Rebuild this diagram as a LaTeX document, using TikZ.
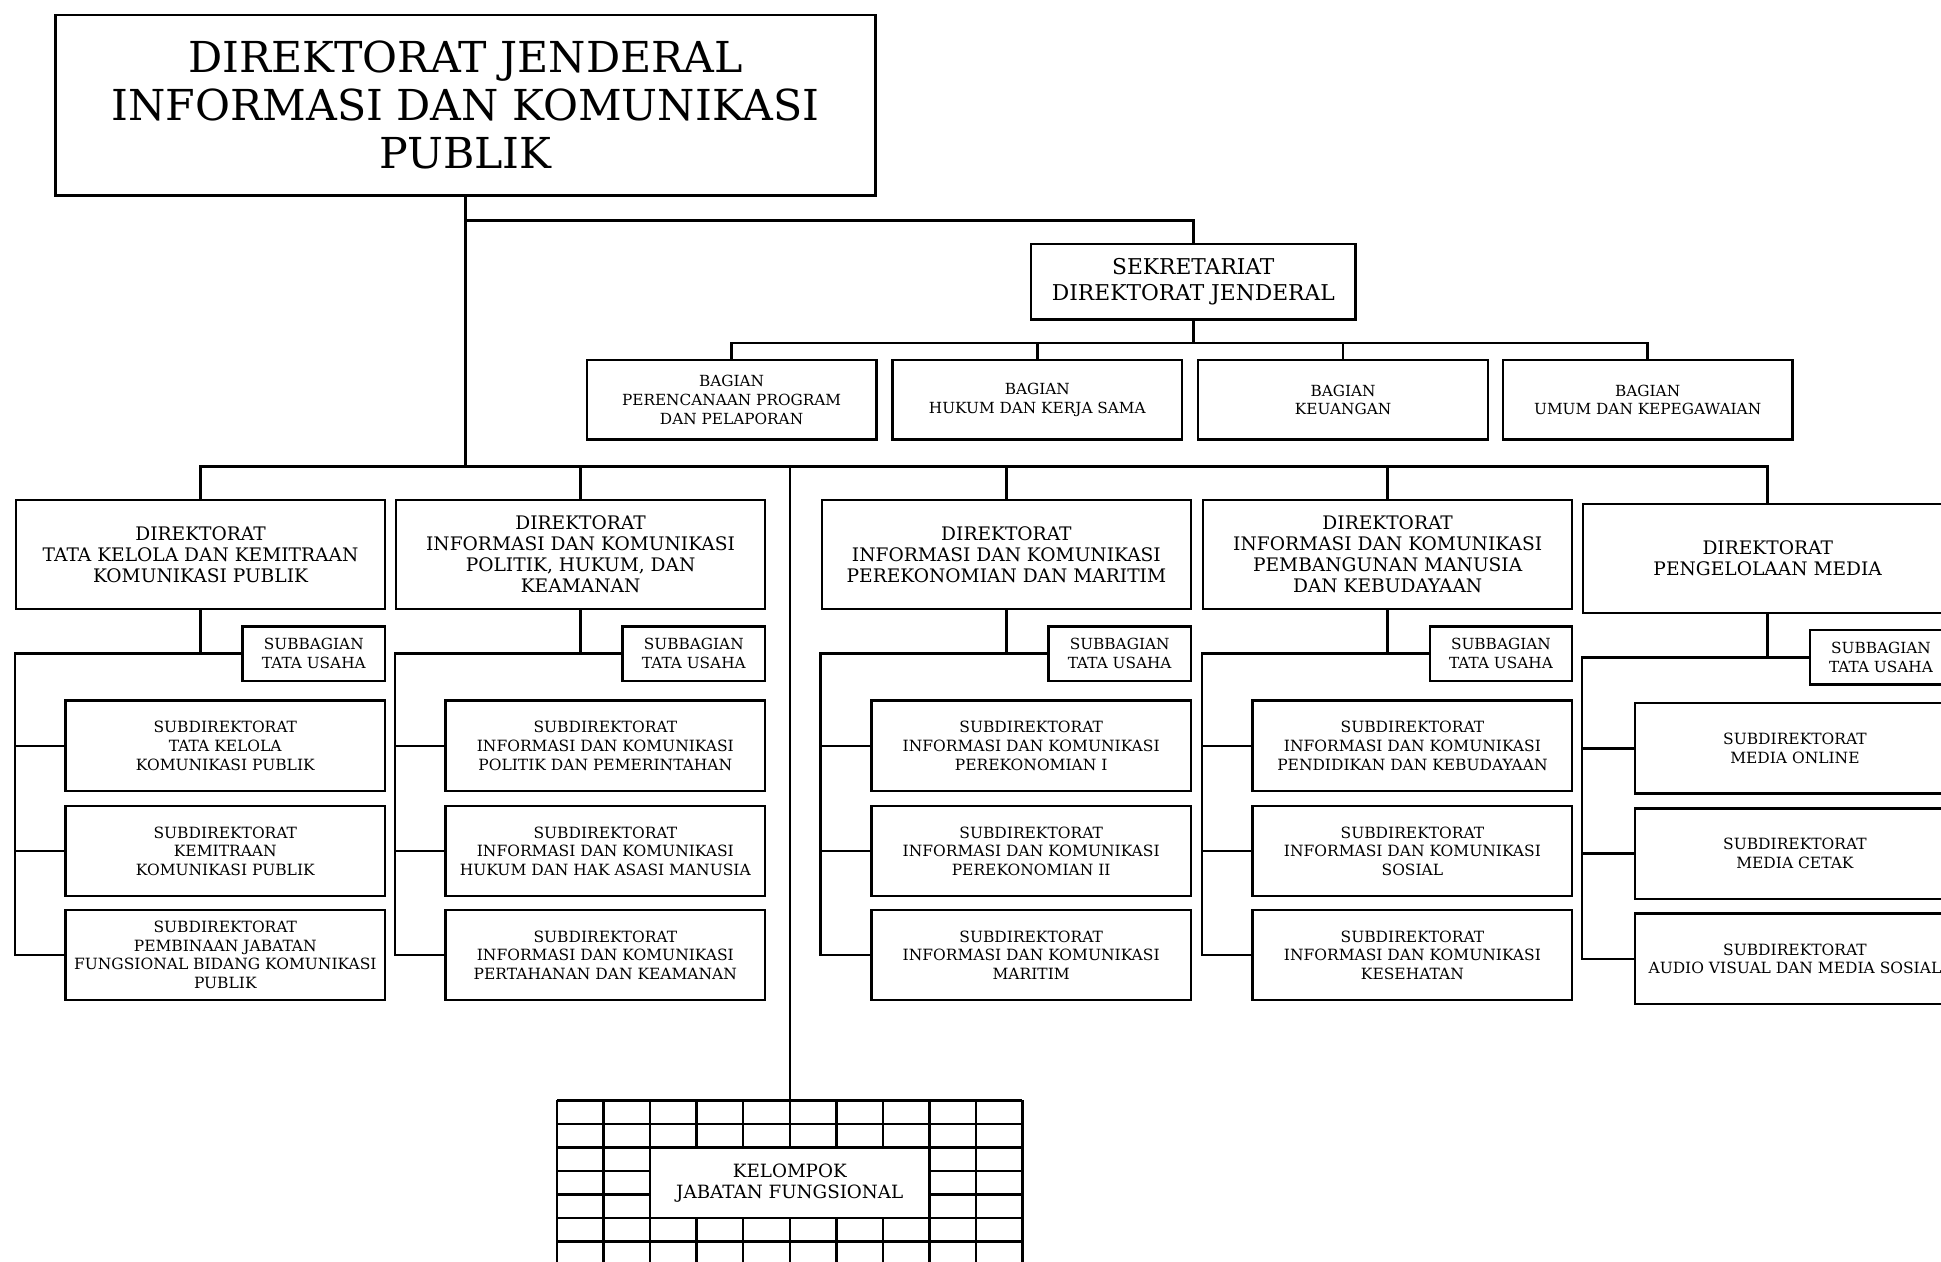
\documentclass[tikz,border=0pt]{standalone}
\usepackage{fontspec}
\setmainfont{DejaVu Serif}
\begin{document}
\begin{tikzpicture}[x=0.025cm, y=-0.025cm, line width=1.4pt,
	box/.style={draw, align=center, inner sep=0pt, fill=white},
	topbox/.style={box, minimum width=16.55cm, minimum height=3.65cm, font=\fontsize{24.5}{27.7}\selectfont},
	sekbox/.style={box, minimum width=6.55cm, minimum height=1.525cm, font=\fontsize{12.5}{15}\selectfont},
	bagbox/.style={box, minimum width=5.85cm, minimum height=1.6cm, font=\fontsize{8.8}{10.7}\selectfont},
	dirbox/.style={box, minimum width=7.45cm, minimum height=2.2cm, font=\fontsize{10.7}{12.1}\selectfont},
	tubox/.style={box, minimum width=2.875cm, minimum height=1.1cm, font=\fontsize{8.8}{10.7}\selectfont},
	subbox/.style={box, minimum width=6.45cm, minimum height=1.825cm, font=\fontsize{8.9}{10.7}\selectfont},
	jfbox/.style={box, minimum width=5.64cm, minimum height=1.425cm, font=\fontsize{10.5}{12}\selectfont}]
		\clip (0,0) rectangle (1568,1019);
		% pimpinan
		\node [topbox] (top) at (376,85) {DIREKTORAT JENDERAL\\INFORMASI DAN KOMUNIKASI\\PUBLIK};
		\node [sekbox] (sek) at (964,227.5) {SEKRETARIAT\\DIREKTORAT JENDERAL};
		\node [bagbox] (b1) at (591,323) {BAGIAN\\PERENCANAAN PROGRAM\\DAN PELAPORAN};
		\node [bagbox] (b2) at (838,323) {BAGIAN\\HUKUM DAN KERJA SAMA};
		\node [bagbox] (b3) at (1085,323) {BAGIAN\\KEUANGAN};
		\node [bagbox] (b4) at (1331,323) {BAGIAN\\UMUM DAN KEPEGAWAIAN};
		\coordinate (buss) at (0,178);
		\coordinate (busb) at (0,277);
		\coordinate (busd) at (0,377);
		% direktorat
		\node [dirbox] (d1) at (162,448) {DIREKTORAT\\TATA KELOLA DAN KEMITRAAN\\KOMUNIKASI PUBLIK};
		\node [dirbox] (d2) at (469,448) {DIREKTORAT\\INFORMASI DAN KOMUNIKASI\\POLITIK, HUKUM, DAN\\KEAMANAN};
		\node [dirbox] (d3) at (813,448) {DIREKTORAT\\INFORMASI DAN KOMUNIKASI\\PEREKONOMIAN DAN MARITIM};
		\node [dirbox] (d4) at (1121,448) {DIREKTORAT\\INFORMASI DAN KOMUNIKASI\\PEMBANGUNAN MANUSIA\\DAN KEBUDAYAAN};
		\node [dirbox] (d5) at (1428,451) {DIREKTORAT\\PENGELOLAAN MEDIA};
		% subbagian tata usaha
		\node [tubox] (t1) at (253.5,528) {SUBBAGIAN\\TATA USAHA};
		\node [tubox] (t2) at (560.5,528) {SUBBAGIAN\\TATA USAHA};
		\node [tubox] (t3) at (904.5,528) {SUBBAGIAN\\TATA USAHA};
		\node [tubox] (t4) at (1212.5,528) {SUBBAGIAN\\TATA USAHA};
		\node [tubox] (t5) at (1519.5,531) {SUBBAGIAN\\TATA USAHA};
		% subdirektorat
		\node [subbox] (s1a) at (182,602.5) {SUBDIREKTORAT\\TATA KELOLA\\KOMUNIKASI PUBLIK};
		\node [subbox] (s1b) at (182,687.5) {SUBDIREKTORAT\\KEMITRAAN\\KOMUNIKASI PUBLIK};
		\node [subbox] (s1c) at (182,771.5) {SUBDIREKTORAT\\PEMBINAAN JABATAN\\FUNGSIONAL BIDANG KOMUNIKASI\\PUBLIK};
		\node [subbox] (s2a) at (489,602.5) {SUBDIREKTORAT\\INFORMASI DAN KOMUNIKASI\\POLITIK DAN PEMERINTAHAN};
		\node [subbox] (s2b) at (489,687.5) {SUBDIREKTORAT\\INFORMASI DAN KOMUNIKASI\\HUKUM DAN HAK ASASI MANUSIA};
		\node [subbox] (s2c) at (489,771.5) {SUBDIREKTORAT\\INFORMASI DAN KOMUNIKASI\\PERTAHANAN DAN KEAMANAN};
		\node [subbox] (s3a) at (833,602.5) {SUBDIREKTORAT\\INFORMASI DAN KOMUNIKASI\\PEREKONOMIAN I};
		\node [subbox] (s3b) at (833,687.5) {SUBDIREKTORAT\\INFORMASI DAN KOMUNIKASI\\PEREKONOMIAN II};
		\node [subbox] (s3c) at (833,771.5) {SUBDIREKTORAT\\INFORMASI DAN KOMUNIKASI\\MARITIM};
		\node [subbox] (s4a) at (1141,602.5) {SUBDIREKTORAT\\INFORMASI DAN KOMUNIKASI\\PENDIDIKAN DAN KEBUDAYAAN};
		\node [subbox] (s4b) at (1141,687.5) {SUBDIREKTORAT\\INFORMASI DAN KOMUNIKASI\\SOSIAL};
		\node [subbox] (s4c) at (1141,771.5) {SUBDIREKTORAT\\INFORMASI DAN KOMUNIKASI\\KESEHATAN};
		\node [subbox] (s5a) at (1450,604.5) {SUBDIREKTORAT\\MEDIA ONLINE};
		\node [subbox] (s5b) at (1450,689.5) {SUBDIREKTORAT\\MEDIA CETAK};
		\node [subbox] (s5c) at (1450,774.5) {SUBDIREKTORAT\\AUDIO VISUAL DAN MEDIA SOSIAL};
		% kelompok jabatan fungsional
		\foreach \i in {0,...,10}
			\draw (450+\i*37.6,889) -- (450+\i*37.6,1022);
		\foreach \j in {0,...,7}
			\draw (450,889+\j*19) -- (826,889+\j*19);
		\node [jfbox] (jf) at (638,955.5) {KELOMPOK\\JABATAN FUNGSIONAL};
		\coordinate (jftop) at (638,889);
		% garis
		\draw (top.south) -- (top.south |- busd);
		\draw (top.south |- buss) -| (sek.north);
		\draw (sek.south) -- (sek.south |- busb);
		\draw (b1.north) |- (b4.north |- busb) -- (b4.north);
		\draw (b2.north) -- (b2.north |- busb);
		\draw (b3.north) -- (b3.north |- busb);
		\draw (d1.north) |- (d5.north |- busd) -- (d5.north);
		\draw (d2.north) -- (d2.north |- busd);
		\draw (d3.north) -- (d3.north |- busd);
		\draw (d4.north) -- (d4.north |- busd);
		\draw (jf.north |- busd) -- (jftop);
		\foreach \k in {1,...,5} {
			\draw (d\k.south) -- (d\k.south |- t\k.west);
			\draw (t\k.west) -| (d\k.west |- s\k c.west) -- (s\k c.west);
			\draw (d\k.west |- s\k a.west) -- (s\k a.west);
			\draw (d\k.west |- s\k b.west) -- (s\k b.west);
		}
	\end{tikzpicture}
\end{document}
